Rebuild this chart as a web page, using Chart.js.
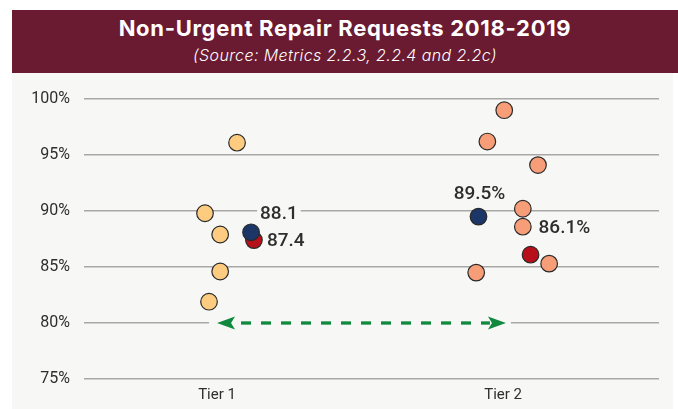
<!DOCTYPE html>
<html>
<head>
<meta charset="utf-8">
<script src="https://cdn.jsdelivr.net/npm/chart.js@4.4.1/dist/chart.umd.min.js"></script>
<style>
    body { margin: 0; width: 678px; height: 409px; overflow: hidden; position: relative; background: #fff; }
    #banner { position: absolute; left: 12px; top: 10px; width: 666px; height: 63px; background: #6a1a31; color: #fff; }
    #title { position: absolute; left: 0; width: 100%; top: 5px; line-height: 26px; text-align: center; font: 700 22px Inter, Roboto, sans-serif; letter-spacing: 0.7px; }
    #subtitle { position: absolute; left: 0; width: 100%; top: 35px; line-height: 20px; text-align: center; font: italic 300 16px Inter, Roboto, sans-serif; letter-spacing: 0.4px; }
    #plot { position: absolute; left: 12px; top: 73px; width: 661px; height: 336px; background: #f7f7f5; }
</style>
</head>
<body>
<div id="banner">
    <div id="title">Non-Urgent Repair Requests 2018-2019</div>
    <div id="subtitle">(Source: Metrics 2.2.3, 2.2.4 and 2.2c)</div>
</div>
<div id="plot"><canvas id="chart" width="661" height="336"></canvas></div>
<script>
    // categories and their positions on the x axis
    const categories = ['Tier 1', 'Tier 2'];
    const categoryPos = [1, 2];

    // individual results (x = jittered position around the tier)
    const tier1X = [1.070, 0.958, 1.011, 1.011, 0.972];
    const tier1Values = [96.1, 89.8, 87.9, 84.6, 81.9];
    const tier2X = [2.004, 1.945, 2.122, 2.069, 2.069, 2.161, 1.906];
    const tier2Values = [99.0, 96.2, 94.1, 90.2, 88.6, 85.3, 84.5];

    // summary points (navy and red)
    const navyX = [1.119, 1.914];
    const navyValues = [88.1, 89.5];
    const navyLabels = ['88.1', '89.5%'];
    const redX = [1.129, 2.096];
    const redValues = [87.4, 86.1];
    const redLabels = ['87.4', '86.1%'];

    // y axis ticks
    const yTicks = [75, 80, 85, 90, 95, 100];

    // arrow between tiers at the 80% line
    const arrowX = [1.0, 2.01];
    const arrowY = 80;

    const bg = '#f7f7f5';
    const textColor = '#2e2e2e';

    function pts(xs, ys) {
        return xs.map(function (x, i) { return { x: x, y: ys[i] }; });
    }

    // where each value label sits relative to its point
    const labelPlacement = {
        navy: [{ dx: 9, dy: -19.5, align: 'left' }, { dx: 1, dy: -23, align: 'center' }],
        red: [{ dx: 13, dy: 0, align: 'left' }, { dx: 8, dy: -27, align: 'left' }]
    };

    const arrowPlugin = {
        id: 'arrow',
        beforeDatasetsDraw: function (chart) {
            const ctx = chart.ctx;
            const xs = chart.scales.x, ys = chart.scales.y;
            const x1 = xs.getPixelForValue(arrowX[0]);
            const x2 = xs.getPixelForValue(arrowX[1]);
            const y = ys.getPixelForValue(arrowY);
            ctx.save();
            // clear the grid line behind the arrow
            ctx.fillStyle = bg;
            ctx.fillRect(x1 - 8, y - 3, x2 - x1 + 13, 6);
            ctx.strokeStyle = '#10893f';
            ctx.fillStyle = '#10893f';
            ctx.lineWidth = 3.3;
            ctx.setLineDash([10, 10]);
            ctx.beginPath();
            ctx.moveTo(x1 + 24, y);
            ctx.lineTo(x2 - 16, y);
            ctx.stroke();
            ctx.setLineDash([]);
            function head(tx, dir) {
                ctx.beginPath();
                ctx.moveTo(tx, y);
                ctx.lineTo(tx + dir * 18, y - 6.5);
                ctx.lineTo(tx + dir * 14, y);
                ctx.lineTo(tx + dir * 18, y + 6.5);
                ctx.closePath();
                ctx.fill();
            }
            head(x1, 1);
            head(x2, -1);
            ctx.restore();
        }
    };

    const labelPlugin = {
        id: 'valueLabels',
        afterDatasetsDraw: function (chart) {
            const ctx = chart.ctx;
            ctx.save();
            ctx.font = '500 19px Roboto, sans-serif';
            ctx.textBaseline = 'middle';
            chart.data.datasets.forEach(function (ds, di) {
                if (!ds.valueLabels) return;
                const meta = chart.getDatasetMeta(di);
                meta.data.forEach(function (el, i) {
                    const p = labelPlacement[ds.key][i];
                    const text = ds.valueLabels[i];
                    const w = ctx.measureText(text).width;
                    let left = el.x + p.dx;
                    if (p.align === 'center') left -= w / 2;
                    const cy = el.y + p.dy;
                    ctx.fillStyle = bg;
                    ctx.fillRect(left - 3, cy - 10, w + 6, 20);
                    ctx.fillStyle = textColor;
                    ctx.textAlign = 'left';
                    ctx.fillText(text, left, cy + 1);
                });
            });
            ctx.restore();
        }
    };

    const pointStyle = { pointRadius: 8.3, pointBorderWidth: 1.2, pointBorderColor: '#2a2a2a', showLine: false };

    new Chart(document.getElementById('chart'), {
        type: 'scatter',
        data: {
            datasets: [
                Object.assign({ key: 'navy', data: pts(navyX, navyValues), valueLabels: navyLabels, pointBackgroundColor: '#1c3667' }, pointStyle),
                Object.assign({ key: 'red', data: pts(redX, redValues), valueLabels: redLabels, pointBackgroundColor: '#b8101a' }, pointStyle),
                Object.assign({ data: pts(tier1X, tier1Values), pointBackgroundColor: '#fdcc80' }, pointStyle),
                Object.assign({ data: pts(tier2X, tier2Values), pointBackgroundColor: '#f79e78' }, pointStyle)
            ]
        },
        options: {
            responsive: false,
            animation: false,
            layout: { padding: { top: 26, right: 14, left: 0, bottom: 0 } },
            plugins: { legend: { display: false }, tooltip: { enabled: false } },
            scales: {
                x: {
                    type: 'linear',
                    min: 0.535,
                    max: 2.545,
                    grid: { display: false, drawTicks: false },
                    border: { display: false },
                    afterBuildTicks: function (scale) {
                        scale.ticks = categoryPos.map(function (v) { return { value: v }; });
                    },
                    afterFit: function (scale) { scale.height = 30; },
                    ticks: {
                        padding: 7,
                        color: textColor,
                        font: { family: 'Roboto', size: 15 },
                        callback: function (v) { return categories[categoryPos.indexOf(Math.round(v))]; }
                    }
                },
                y: {
                    min: yTicks[0],
                    max: yTicks[yTicks.length - 1],
                    grid: { color: '#a8a8a8', lineWidth: 1.5, drawTicks: false },
                    border: { display: false },
                    afterBuildTicks: function (scale) {
                        scale.ticks = yTicks.map(function (v) { return { value: v }; });
                    },
                    afterFit: function (scale) { scale.width = 72; },
                    ticks: {
                        padding: 14,
                        color: textColor,
                        font: { family: 'Roboto', size: 16 },
                        callback: function (v) { return v + '%'; }
                    }
                }
            }
        },
        plugins: [arrowPlugin, labelPlugin]
    });
</script>
</body>
</html>
